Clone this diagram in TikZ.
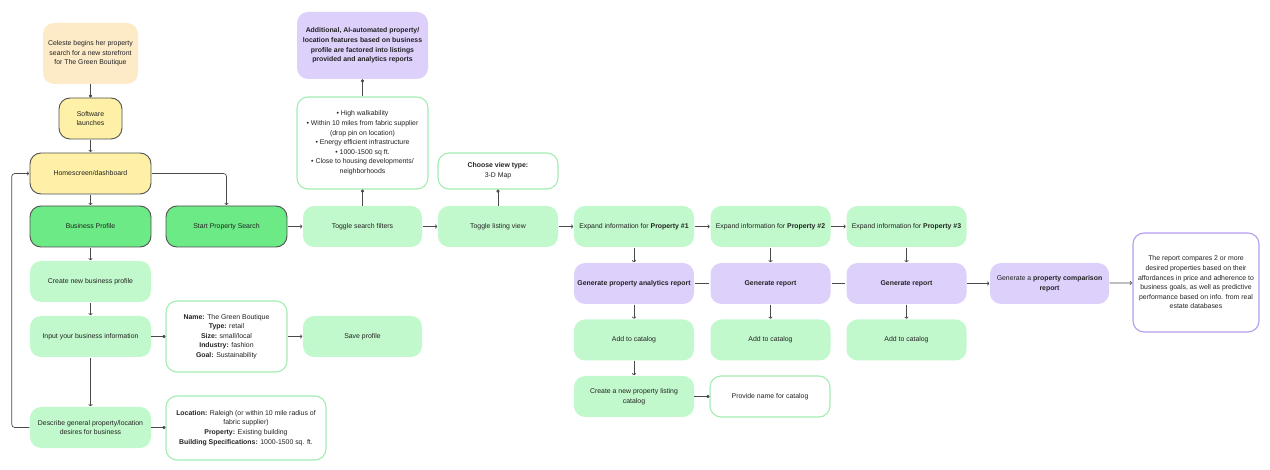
\documentclass[tikz,border=0pt]{standalone}
\usepackage{fontspec}
\setmainfont{Liberation Sans}
\usetikzlibrary{arrows.meta}
\definecolor{peach}{HTML}{FDEBC8}
\definecolor{yel}{HTML}{FEF0A6}
\definecolor{bgreen}{HTML}{6CEA85}
\definecolor{lgreen}{HTML}{C2F9CC}
\definecolor{gborder}{HTML}{A4EDB1}
\definecolor{purp}{HTML}{DDD0FB}
\definecolor{pborder}{HTML}{B49CF0}
\definecolor{dark}{HTML}{505050}
\definecolor{txt}{HTML}{222222}
\definecolor{conn}{HTML}{4A4A4A}
\begin{document}
\begin{tikzpicture}[x=1pt,y=-1pt,
  font=\fontsize{6.9}{9.6}\selectfont,
  base/.style={rounded corners=11pt, align=center, inner sep=2pt, text=txt},
  peachbox/.style={base, fill=peach},
  yelbox/.style={base, fill=yel, draw=dark, line width=0.9pt},
  bgbox/.style={base, fill=bgreen, draw=dark, line width=0.9pt},
  lgbox/.style={base, fill=lgreen},
  wgbox/.style={base, fill=white, draw=gborder, line width=1.1pt},
  wpbox/.style={base, fill=white, draw=pborder, line width=1.1pt},
  pbox/.style={base, fill=purp},
  sz/.style n args={2}{minimum width=#1pt, minimum height=#2pt},
  arr/.style={draw=conn, line width=0.7pt, -{To[length=2.2pt,width=4pt]}, shorten >=0.5pt, shorten <=0.5pt},
  dotc/.style={draw=conn, line width=0.7pt, -{Circle[length=3.2pt]}},
  plain/.style={draw=conn, line width=0.7pt, shorten >=1pt, shorten <=1pt}
]
\useasboundingbox (0,0) rectangle (1270,470);

% left column
\node[peachbox, sz={95}{61}] (cel) at (90.5,53.5) {Celeste begins her property\\search for a new storefront\\for The Green Boutique};
\node[yelbox, sz={63}{41}] (soft) at (90.5,118.5) {Software\\launches};
\node[yelbox, sz={121}{41}] (home) at (90.5,173.5) {Homescreen/dashboard};
\node[bgbox, sz={121}{41}] (bp) at (90.5,226.5) {Business Profile};
\node[bgbox, sz={121}{41}] (sps) at (226.5,226.5) {Start Property Search};
\node[lgbox, sz={121}{41}] (create) at (90.5,281.5) {Create new business profile};
\node[lgbox, sz={121}{41}] (input) at (90.5,336.5) {Input your business information};
\node[lgbox, sz={121}{41}] (desc) at (90.5,427.5) {Describe general property/location\\desires for business};
\node[wgbox, sz={121}{71}] (name) at (226.5,336.5) {\textbf{Name:} The Green Boutique\\\textbf{Type:} retail\\\textbf{Size:} small/local\\\textbf{Industry:} fashion\\\textbf{Goal:} Sustainability};
\node[lgbox, sz={119}{41}] (save) at (362.5,336.5) {Save profile};
\node[wgbox, sz={160}{64}] (loc) at (246,428) {\textbf{Location:} Raleigh (or within 10 mile radius of\\fabric supplier)\\\textbf{Property:} Existing building\\\textbf{Building Specifications:} 1000-1500 sq. ft.};

% search column
\node[lgbox, sz={119}{41}] (tsf) at (362.5,226.5) {Toggle search filters};
\node[wgbox, sz={131}{92}] (filt) at (362.5,143) {• High walkability\\• Within 10 miles from fabric supplier\\(drop pin on location)\\• Energy efficient infrastructure\\• 1000-1500 sq ft.\\• Close to housing developments/\\neighborhoods};
\node[pbox, sz={131}{67}] (ai) at (362.5,45.5) {\textbf{Additional, AI-automated property/}\\\textbf{location features based on business}\\\textbf{profile are factored into listings}\\\textbf{provided and analytics reports}};
\node[lgbox, sz={120}{41}] (tlv) at (498,226.5) {Toggle listing view};
\node[wgbox, sz={120}{36}] (cvt) at (498,171) {\textbf{Choose view type:}\\3-D Map};

% properties
\node[lgbox, sz={120}{41}] (p1) at (634,226.5) {Expand information for \textbf{Property \#1}};
\node[lgbox, sz={120}{41}] (p2) at (770.5,226.5) {Expand information for \textbf{Property \#2}};
\node[lgbox, sz={120}{41}] (p3) at (906.5,226.5) {Expand information for \textbf{Property \#3}};
\node[pbox, sz={120}{41}] (g1) at (634,283.5) {\textbf{Generate property analytics report}};
\node[pbox, sz={120}{41}] (g2) at (770.5,283.5) {\textbf{Generate report}};
\node[pbox, sz={120}{41}] (g3) at (906.5,283.5) {\textbf{Generate report}};
\node[lgbox, sz={120}{41}] (a1) at (634,340) {Add to catalog};
\node[lgbox, sz={120}{41}] (a2) at (770.5,340) {Add to catalog};
\node[lgbox, sz={120}{41}] (a3) at (906.5,340) {Add to catalog};
\node[lgbox, sz={120}{41}] (cnl) at (634,396.5) {Create a new property listing\\catalog};
\node[wgbox, sz={120}{41}] (pn) at (770,396.5) {Provide name for catalog};
\node[pbox, sz={119}{41}] (comp) at (1049.5,283.5) {Generate a \textbf{property comparison}\\\textbf{report}};
\node[wpbox, sz={126}{99}] (rep) at (1196,282.5) {The report compares 2 or more\\desired properties based on their\\affordances in price and adherence to\\business goals, as well as predictive\\performance based on info. from real\\estate databases};

% connectors
\draw[dotc] (cel) -- (soft);
\draw[arr] (soft) -- (home);
\draw[arr] (home) -- (bp);
\draw[arr, rounded corners=3pt] (home.east) -| (sps.north);
\draw[arr] (bp) -- (create);
\draw[arr] (create) -- (input);
\draw[arr] (input) -- (desc);
\draw[arr, rounded corners=3pt] (desc.west) -- ++(-18,0) |- (home.west);
\draw[dotc] (input) -- (name);
\draw[arr] (name) -- (save);
\draw[dotc] (desc.east) -- (desc.east -| loc.west);
\draw[arr] (sps) -- (tsf);
\draw[dotc] (tsf) -- (filt);
\draw[dotc] (filt) -- (ai);
\draw[arr] (tsf) -- (tlv);
\draw[dotc] (tlv) -- (cvt);
\draw[arr] (tlv) -- (p1);
\draw[arr] (p1) -- (p2);
\draw[arr] (p2) -- (p3);
\draw[arr] (p1) -- (g1);
\draw[arr] (g1) -- (a1);
\draw[arr] (a1) -- (cnl);
\draw[arr] (p2) -- (g2);
\draw[arr] (g2) -- (a2);
\draw[arr] (p3) -- (g3);
\draw[arr] (g3) -- (a3);
\draw[plain] (g1) -- (g2);
\draw[plain] (g2) -- (g3);
\draw[arr] (g3) -- (comp);
\draw[arr] (comp) -- (rep);
\draw[dotc] (cnl) -- (pn);
\end{tikzpicture}
\end{document}
